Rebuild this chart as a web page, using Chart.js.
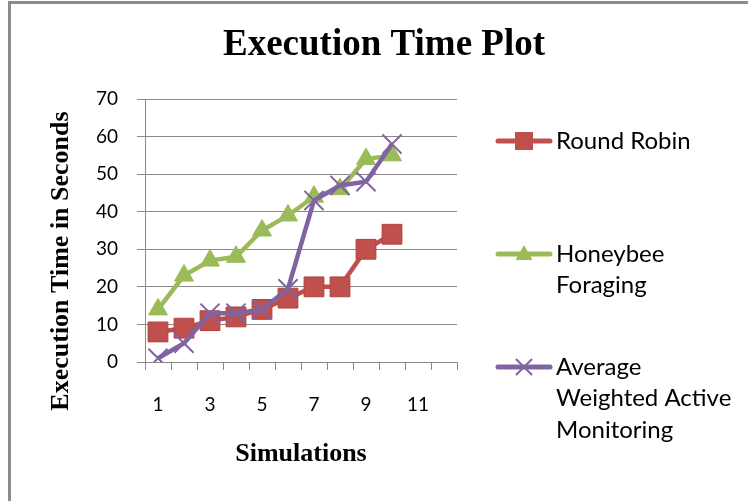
<!DOCTYPE html>
<html>
<head>
<meta charset="utf-8">
<script src="https://cdn.jsdelivr.net/npm/chart.js@4.4.1/dist/chart.umd.min.js"></script>
<style>
  html, body { margin: 0; padding: 0; background: #fff; }
  #frame { position: absolute; left: 8px; top: 1px; right: 0; bottom: 0;
           border-left: 3px solid #8c8c8c; border-top: 3px solid #8c8c8c; }
  #plot { position: absolute; left: 0; top: 0; }
</style>
</head>
<body>
<div id="frame"></div>
<canvas id="plot" width="748" height="501"></canvas>
<script>
// data
const simulations = ['1', '2', '3', '4', '5', '6', '7', '8', '9', '10', '11', '12'];
const roundRobin = [8, 9, 11, 12, 14, 17, 20, 20, 30, 34];
const honeybee   = [14, 23, 27, 28, 35, 39, 44, 46, 54, 55];
const awam       = [1, 5, 13, 13, 14, 19.5, 43, 47, 48, 58];
const yTicks     = [0, 10, 20, 30, 40, 50, 60, 70];

const RED = '#C0504D', GREEN = '#9BBB59', PURPLE = '#8064A2', GRID = '#888888';

// title, legend on the right + rotated y title (Excel places these off-centre)
const sideText = {
    id: 'sideText',
    afterDraw(chart) {
        const ctx = chart.ctx;
        ctx.save();
        ctx.fillStyle = '#000';
        ctx.textAlign = 'center';
        ctx.textBaseline = 'middle';
        ctx.font = 'bold 37px "Liberation Serif"';
        ctx.fillText('Execution Time Plot', 384, 45);
        ctx.font = 'bold 26px "Liberation Serif"';
        ctx.translate(61, 261);
        ctx.rotate(-Math.PI / 2);
        ctx.fillText('Execution Time in Seconds', 0, 0);
        ctx.restore();

        const items = [
            { ds: 0, lines: ['Round Robin'], y: 141 },
            { ds: 1, lines: ['Honeybee', 'Foraging'], y: 254 },
            { ds: 2, lines: ['Average', 'Weighted Active', 'Monitoring'], y: 367 }
        ];
        items.forEach(it => {
            const d = chart.data.datasets[it.ds];
            ctx.save();
            ctx.strokeStyle = d.borderColor;
            ctx.lineWidth = 5;
            ctx.lineCap = 'round';
            ctx.beginPath();
            ctx.moveTo(498, it.y);
            ctx.lineTo(550, it.y);
            ctx.stroke();
            const cx = 524, cy = it.y;
            ctx.fillStyle = d.backgroundColor;
            if (d.pointStyle === 'rect') {
                ctx.fillRect(cx - 9, cy - 9, 18, 18);
            } else if (d.pointStyle === 'triangle') {
                ctx.beginPath();
                ctx.moveTo(cx, cy - 9);
                ctx.lineTo(cx + 8.5, cy + 6);
                ctx.lineTo(cx - 8.5, cy + 6);
                ctx.closePath();
                ctx.fill();
            } else {
                ctx.lineWidth = 2;
                ctx.lineCap = 'butt';
                ctx.beginPath();
                ctx.moveTo(cx - 8, cy - 8); ctx.lineTo(cx + 8, cy + 8);
                ctx.moveTo(cx + 8, cy - 8); ctx.lineTo(cx - 8, cy + 8);
                ctx.stroke();
            }
            ctx.fillStyle = '#000';
            ctx.font = '24px Lato';
            ctx.textAlign = 'left';
            ctx.textBaseline = 'middle';
            it.lines.forEach((t, i) => ctx.fillText(t, 556, it.y + i * 31.5));
            ctx.restore();
        });
    }
};

new Chart(document.getElementById('plot'), {
    type: 'line',
    data: {
        labels: simulations,
        datasets: [
            {
                label: 'Round Robin',
                data: roundRobin,
                borderColor: RED,
                backgroundColor: RED,
                borderWidth: 4.5,
                pointStyle: 'rect',
                pointRadius: 14,
                pointBorderWidth: 1,
                pointBorderColor: '#B4403D',
                order: 2
            },
            {
                label: 'Honeybee Foraging',
                data: honeybee,
                borderColor: GREEN,
                backgroundColor: GREEN,
                borderWidth: 4.5,
                pointStyle: 'triangle',
                pointRadius: 11,
                pointBorderWidth: 1,
                pointBorderColor: GREEN,
                order: 1
            },
            {
                label: 'Average Weighted Active Monitoring',
                data: awam,
                borderColor: PURPLE,
                backgroundColor: PURPLE,
                borderWidth: 4.5,
                pointStyle: 'crossRot',
                pointRadius: 13.5,
                pointBorderWidth: 2,
                pointBorderColor: PURPLE,
                order: 0
            }
        ]
    },
    options: {
        responsive: false,
        animation: false,
        devicePixelRatio: 1,
        layout: { padding: { left: 20, right: 291, top: 99, bottom: 0 } },
        elements: { line: { tension: 0 } },
        plugins: {
            legend: { display: false },
            tooltip: { enabled: false },
            title: { display: false }
        },
        scales: {
            x: {
                offset: true,
                grid: { offset: true, drawOnChartArea: false, drawTicks: true, tickLength: 8, color: GRID },
                border: { display: true, color: GRID, width: 1 },
                ticks: {
                    autoSkip: false,
                    maxRotation: 0,
                    padding: 23,
                    color: '#000',
                    font: { family: 'Lato', size: 19 },
                    callback: function (value, index) {
                        return index % 2 === 0 ? this.getLabelForValue(value) : '';
                    }
                },
                title: {
                    display: true,
                    text: 'Simulations',
                    color: '#000',
                    font: { family: '"Liberation Serif"', size: 26, weight: 'bold' },
                    padding: { top: 0, bottom: 31 }
                },
                afterFit(scale) { scale.height = 139; }
            },
            y: {
                min: yTicks[0],
                max: yTicks[yTicks.length - 1],
                grid: { color: GRID, tickLength: 8, drawTicks: true },
                border: { display: true, color: GRID, width: 1 },
                afterBuildTicks(scale) { scale.ticks = yTicks.map(v => ({ value: v })); },
                ticks: {
                    padding: 19,
                    color: '#000',
                    font: { family: 'Lato', size: 19 }
                },
                afterFit(scale) { scale.width = 125; }
            }
        }
    },
    plugins: [sideText]
});
</script>
</body>
</html>
